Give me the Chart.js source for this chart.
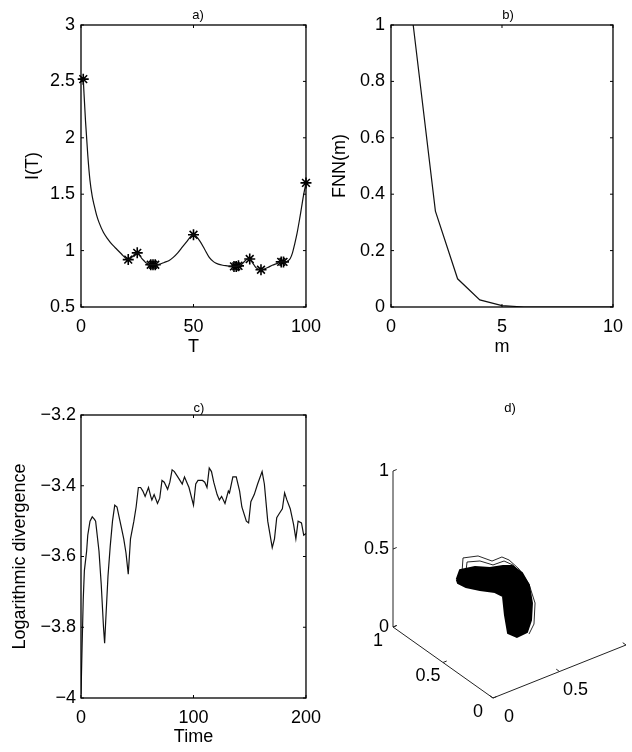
<!DOCTYPE html>
<html>
<head>
<meta charset="utf-8">
<script src="https://cdn.jsdelivr.net/npm/chart.js@4.4.1/dist/chart.umd.min.js"></script>
<style>
  body { margin: 0; background: #fff; }
  #wrap { position: relative; width: 632px; height: 752px; overflow: hidden; background: #fff; }
  canvas { position: absolute; }
</style>
</head>
<body>
<div id="wrap">
  <canvas id="pa" style="left:0;top:0"></canvas>
  <canvas id="pb" style="left:320px;top:0"></canvas>
  <canvas id="pc" style="left:0;top:380px"></canvas>
  <canvas id="pd" style="left:330px;top:380px"></canvas>
</div>
<script>
// ---- a) mutual information I(T) ----
const tCurve = [1, 2, 3, 4, 5, 6, 7, 8, 10, 12, 14, 16, 18, 20, 21, 22, 23, 24, 25, 26, 27, 28, 29, 30,
  31, 32, 33, 35, 37, 39, 41, 43, 45, 47, 49, 50, 51, 53, 55, 57, 59, 61, 63, 65, 67, 68, 69, 70,
  71, 72, 73, 74, 75, 76, 77, 78, 79, 80, 81, 83, 85, 87, 89, 90, 91, 92, 93, 94, 95, 96, 97, 98, 99, 100];
const iCurve = [2.52, 2.15, 1.85, 1.62, 1.48, 1.39, 1.31, 1.25, 1.16, 1.10, 1.05, 1.01, 0.97, 0.93, 0.92, 0.93,
  0.95, 0.97, 0.98, 0.96, 0.93, 0.91, 0.89, 0.88, 0.875, 0.875, 0.875, 0.88, 0.895, 0.91, 0.94, 0.98,
  1.03, 1.08, 1.13, 1.14, 1.13, 1.08, 1.01, 0.94, 0.90, 0.88, 0.87, 0.865, 0.86, 0.86, 0.86, 0.865,
  0.87, 0.89, 0.91, 0.925, 0.925, 0.90, 0.87, 0.845, 0.835, 0.83, 0.835, 0.85, 0.87, 0.885, 0.90,
  0.90, 0.90, 0.91, 0.93, 0.98, 1.06, 1.15, 1.26, 1.38, 1.50, 1.60];
const tStars = [1, 21, 25, 31, 32, 33, 50, 68, 69, 70, 75, 80, 89, 90, 100];
const iStars = [2.52, 0.92, 0.98, 0.875, 0.875, 0.875, 1.14, 0.86, 0.86, 0.865, 0.925, 0.83, 0.90, 0.90, 1.60];

// ---- b) false nearest neighbours ----
const mVals = [1, 2, 3, 4, 5, 6, 7, 8, 9, 10];
const fnnVals = [1.0, 0.34, 0.10, 0.025, 0.005, 0, 0, 0, 0, 0];

// ---- c) logarithmic divergence ----
const timeVals = [0, 1, 2, 3, 5, 6, 8, 10, 12, 13, 16, 18, 20, 21, 22, 24, 26, 28, 30, 32, 34, 36, 38, 40,
  42, 44, 47, 49, 51, 53, 55, 57, 60, 62, 63, 65, 68, 70, 72, 74, 77, 79, 81, 83, 85, 87, 90, 92, 94,
  96, 100, 102, 104, 108, 110, 112, 114, 116, 118, 121, 123, 125, 128, 131, 132, 135, 138, 141, 143,
  147, 149, 151, 154, 157, 161, 163, 166, 170, 172, 174, 176, 179, 181, 183, 186, 189, 191, 193, 196, 198, 200];
const divVals = [-3.99, -3.85, -3.72, -3.64, -3.585, -3.54, -3.50, -3.488, -3.495, -3.50, -3.585, -3.68,
  -3.80, -3.845, -3.78, -3.655, -3.57, -3.50, -3.455, -3.46, -3.49, -3.52, -3.55, -3.59, -3.65, -3.55,
  -3.50, -3.46, -3.405, -3.405, -3.415, -3.43, -3.405, -3.43, -3.44, -3.425, -3.45, -3.435, -3.385,
  -3.39, -3.41, -3.39, -3.355, -3.36, -3.37, -3.38, -3.395, -3.375, -3.39, -3.405, -3.455, -3.395,
  -3.385, -3.385, -3.39, -3.405, -3.35, -3.36, -3.39, -3.425, -3.44, -3.43, -3.45, -3.415, -3.42,
  -3.375, -3.375, -3.415, -3.46, -3.50, -3.505, -3.445, -3.425, -3.395, -3.36, -3.395, -3.50, -3.575,
  -3.55, -3.49, -3.48, -3.465, -3.42, -3.44, -3.465, -3.51, -3.55, -3.50, -3.505, -3.54, -3.535];

// ---- d) reconstructed attractor (outline of the dense trajectory) ----
const blobX = [0.207, 0.286, 0.379, 0.444, 0.520, 0.564, 0.617, 0.622, 0.599, 0.564, 0.527, 0.476, 0.450,
  0.462, 0.475, 0.411, 0.321, 0.242, 0.209, 0.207];
const blobY = [0.638, 0.710, 0.684, 0.621, 0.592, 0.560, 0.531, 0.468, 0.407, 0.370, 0.361, 0.394, 0.448,
  0.495, 0.532, 0.527, 0.557, 0.592, 0.628, 0.638];
const blobZ = [0.40, 0.40, 0.40, 0.40, 0.40, 0.40, 0.35, 0.30, 0.22, 0.14, 0.08, 0.05, 0.06,
  0.15, 0.25, 0.30, 0.33, 0.36, 0.38, 0.40];
const loopAX = [0.275, 0.361, 0.447, 0.480, 0.555, 0.569, 0.598, 0.629, 0.614, 0.572, 0.533];
const loopAY = [0.676, 0.780, 0.744, 0.648, 0.649, 0.596, 0.535, 0.477, 0.396, 0.351, 0.349];
const loopAZ = [0.40, 0.42, 0.42, 0.42, 0.42, 0.42, 0.38, 0.30, 0.22, 0.12, 0.07];
const loopBX = [0.308, 0.353, 0.422, 0.458, 0.538, 0.575, 0.608];
const loopBY = [0.680, 0.729, 0.692, 0.609, 0.605, 0.565, 0.509];
const loopBZ = [0.40, 0.42, 0.42, 0.42, 0.42, 0.40, 0.35];
const axLim3d = [0, 1];
const ticks3d = [0, 0.5, 1];

const FONT = '"Liberation Sans", Arial, Helvetica, sans-serif';
Chart.defaults.font.family = FONT;
Chart.defaults.font.size = 18;
Chart.defaults.color = '#000';

const pts = (xs, ys) => xs.map((v, i) => ({ x: v, y: ys[i] }));
const fmt = v => (Math.round(v * 10) / 10).toString().replace('-', '\u2212');

// frame with inward ticks + panel letter
function framePlugin(label, lx, ly) {
  return {
    id: 'frame',
    afterDraw(chart) {
      const { ctx, chartArea: a, scales } = chart;
      ctx.save();
      ctx.strokeStyle = '#000';
      ctx.lineWidth = 1.3;
      ctx.strokeRect(a.left, a.top, a.right - a.left, a.bottom - a.top);
      ctx.lineWidth = 1;
      ctx.beginPath();
      scales.x.ticks.forEach(t => {
        const p = scales.x.getPixelForValue(t.value);
        ctx.moveTo(p, a.bottom); ctx.lineTo(p, a.bottom - 3);
        ctx.moveTo(p, a.top); ctx.lineTo(p, a.top + 3);
      });
      scales.y.ticks.forEach(t => {
        const p = scales.y.getPixelForValue(t.value);
        ctx.moveTo(a.left, p); ctx.lineTo(a.left + 3, p);
        ctx.moveTo(a.right, p); ctx.lineTo(a.right - 3, p);
      });
      ctx.stroke();
      ctx.font = '13px ' + FONT;
      ctx.fillStyle = '#000';
      ctx.textAlign = 'center';
      ctx.textBaseline = 'middle';
      ctx.fillText(label, lx, ly);
      ctx.restore();
    }
  };
}

function makePanel(id, W, H, area, c) {
  const cv = document.getElementById(id);
  cv.width = W; cv.height = H;
  return new Chart(cv, {
    type: 'scatter',
    data: { datasets: c.datasets },
    options: {
      responsive: false,
      animation: false,
      layout: { autoPadding: false, padding: { left: 0, top: area.top, right: W - area.right, bottom: 0 } },
      plugins: { legend: { display: false }, tooltip: { enabled: false } },
      scales: {
        x: {
          type: 'linear', min: c.x[0], max: c.x[1],
          ticks: { stepSize: c.x[2], padding: 9, maxRotation: 0, autoSkip: false },
          grid: { display: false, drawTicks: false }, border: { display: false },
          title: { display: true, text: c.xTitle, padding: { top: 0, bottom: c.xPad } },
          afterFit: s => { s.height = H - area.bottom; }
        },
        y: {
          type: 'linear', min: c.y[0], max: c.y[1],
          ticks: { stepSize: c.y[2], padding: c.yTickPad, autoSkip: false, callback: fmt },
          grid: { display: false, drawTicks: false }, border: { display: false },
          title: { display: true, text: c.yTitle, padding: { top: c.yPad, bottom: 0 } },
          afterFit: s => { s.width = area.left; }
        }
      }
    },
    plugins: [framePlugin(c.label, c.lx, c.ly)]
  });
}

const lineStyle = { showLine: true, borderColor: '#111', borderWidth: 1.2, pointRadius: 0, fill: false };

makePanel('pa', 330, 375, { left: 81, top: 25, right: 311, bottom: 307 }, {
  datasets: [
    Object.assign({ data: pts(tCurve, iCurve), cubicInterpolationMode: 'monotone' }, lineStyle),
    { data: pts(tStars, iStars), pointStyle: 'star', pointRadius: 5.5, borderColor: '#000',
      borderWidth: 1.6, backgroundColor: 'rgba(0,0,0,0)', clip: false }
  ],
  x: [0, 100, 50], y: [0.5, 3, 0.5], xTitle: 'T', yTitle: 'I(T)',
  xPad: 17, yPad: 22, yTickPad: 6, label: 'a)', lx: 198, ly: 15
});

makePanel('pb', 312, 375, { left: 71, top: 25, right: 302, bottom: 307 }, {
  datasets: [Object.assign({ data: pts(mVals, fnnVals) }, lineStyle)],
  x: [0, 10, 5], y: [0, 1, 0.2], xTitle: 'm', yTitle: 'FNN(m)',
  xPad: 17, yPad: 9, yTickPad: 6, label: 'b)', lx: 188, ly: 15
});

makePanel('pc', 330, 372, { left: 81, top: 35, right: 311, bottom: 318 }, {
  datasets: [Object.assign({ data: pts(timeVals, divVals) }, lineStyle)],
  x: [0, 200, 100], y: [-4, -3.2, 0.2], xTitle: 'Time', yTitle: 'Logarithmic divergence',
  xPad: 4, yPad: 9, yTickPad: 5, label: 'c)', lx: 199, ly: 28
});

// ---- d) 3D view projected onto a flat scatter chart ----
const VIEW = { ox: 163, oy: 318, ex: [133, -53], ey: [-100, -71], ez: [0, -156] };
function project(x, y, z) {
  return {
    x: VIEW.ox + x * VIEW.ex[0] + y * VIEW.ey[0] + z * VIEW.ez[0],
    y: VIEW.oy + x * VIEW.ex[1] + y * VIEW.ey[1] + z * VIEW.ez[1]
  };
}
const proj3 = (xs, ys, zs) => xs.map((v, i) => project(v, ys[i], zs[i]));
const [lo, hi] = axLim3d;

const axisDs = [
  [project(lo, hi, lo), project(lo, hi, hi)],
  [project(lo, hi, lo), project(lo, lo, lo)],
  [project(lo, lo, lo), project(hi, lo, lo)]
].map(d => ({ data: d, showLine: true, borderColor: '#222', borderWidth: 1, pointRadius: 0, clip: false }));

const axes3dPlugin = {
  id: 'axes3d',
  afterDraw(chart) {
    const ctx = chart.ctx;
    ctx.save();
    ctx.strokeStyle = '#222';
    ctx.lineWidth = 1;
    const nx = Math.hypot(...VIEW.ex), ny = Math.hypot(...VIEW.ey);
    ctx.beginPath();
    ticks3d.forEach(t => {
      let p = project(lo, hi, t);
      ctx.moveTo(p.x, p.y); ctx.lineTo(p.x + 4 * VIEW.ex[0] / nx, p.y + 4 * VIEW.ex[1] / nx);
      p = project(lo, t, lo);
      ctx.moveTo(p.x, p.y); ctx.lineTo(p.x + 4 * VIEW.ex[0] / nx, p.y + 4 * VIEW.ex[1] / nx);
      p = project(t, lo, lo);
      ctx.moveTo(p.x, p.y); ctx.lineTo(p.x + 4 * VIEW.ey[0] / ny, p.y + 4 * VIEW.ey[1] / ny);
    });
    ctx.stroke();
    ctx.fillStyle = '#000';
    ctx.font = '18px ' + FONT;
    ctx.textBaseline = 'middle';
    ticks3d.forEach(t => {
      const s = String(t);
      let p = project(lo, hi, t);
      ctx.textAlign = 'right';
      ctx.fillText(s, p.x - 4, p.y);
      ctx.textAlign = 'center';
      p = project(lo, t, lo);
      ctx.fillText(s, p.x - 15, p.y + 14);
      p = project(t, lo, lo);
      ctx.fillText(s, p.x + 16, p.y + 19);
    });
    ctx.font = '13px ' + FONT;
    ctx.fillText('d)', 180, 28);
    ctx.restore();
  }
};

(function () {
  const cv = document.getElementById('pd');
  const W = 302, H = 372;
  cv.width = W; cv.height = H;
  new Chart(cv, {
    type: 'scatter',
    data: {
      datasets: axisDs.concat([
        { data: proj3(blobX, blobY, blobZ), showLine: true, fill: 'shape', backgroundColor: '#000',
          borderColor: '#000', borderWidth: 2, pointRadius: 0 },
        { data: proj3(loopAX, loopAY, loopAZ), showLine: true, borderColor: '#111', borderWidth: 0.9, pointRadius: 0 },
        { data: proj3(loopBX, loopBY, loopBZ), showLine: true, borderColor: '#111', borderWidth: 0.9, pointRadius: 0 }
      ])
    },
    options: {
      responsive: false,
      animation: false,
      layout: { autoPadding: false, padding: 0 },
      plugins: { legend: { display: false }, tooltip: { enabled: false } },
      scales: {
        x: { type: 'linear', display: false, min: 0, max: W },
        y: { type: 'linear', display: false, min: 0, max: H, reverse: true }
      }
    },
    plugins: [axes3dPlugin]
  });
})();
</script>
</body>
</html>
